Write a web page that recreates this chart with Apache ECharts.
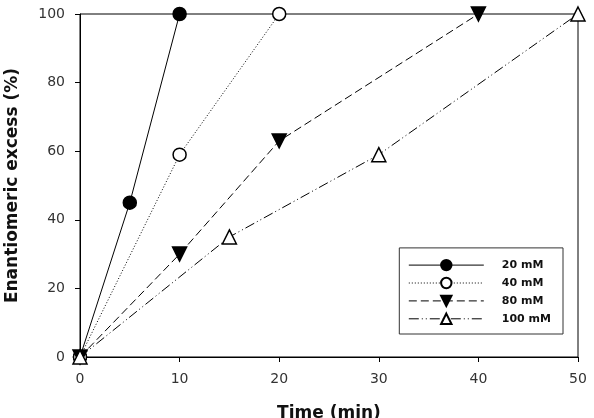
<!DOCTYPE html>
<html>
<head>
<meta charset="utf-8">
<script src="https://cdn.jsdelivr.net/npm/echarts@6/dist/echarts.min.js"></script>
<style>
  html, body { margin: 0; padding: 0; background: #fff; }
  #chart { width: 594px; height: 418px; }
</style>
</head>
<body>
<div id="chart"></div>
<script>
// data
var names = ['20 mM', '40 mM', '80 mM', '100 mM'];
var time20 = [0, 5, 10];
var ee20 = [0, 45, 100];
var time40 = [0, 10, 20];
var ee40 = [0, 59, 100];
var time80 = [0, 10, 20, 40];
var ee80 = [0, 30, 63, 100];
var time100 = [0, 15, 30, 50];
var ee100 = [0, 35, 59, 100];

function pairs(xs, ys) {
    var out = [];
    for (var i = 0; i < xs.length; i++) {
        out.push([xs[i], ys[i]]);
    }
    return out;
}

var font = 'DejaVu Sans, Liberation Sans, sans-serif';

function makeSeries(name, xs, ys, symbol, fill, dash, rotate) {
    return {
        name: name,
        type: 'line',
        data: pairs(xs, ys),
        symbol: symbol,
        symbolSize: symbol === 'circle' ? 13 : 14,
        symbolRotate: rotate || 0,
        showAllSymbol: true,
        itemStyle: { color: fill, borderColor: '#000', borderWidth: 1.5 },
        lineStyle: { color: '#000', width: 1, type: dash },
        z: 3
    };
}

var chart = echarts.init(document.getElementById('chart'));
chart.setOption({
    animation: false,
    textStyle: { fontFamily: font },
    grid: { left: 80, top: 14, right: 16, bottom: 61, containLabel: false, outerBoundsMode: 'none' },
    legend: {
        data: names,
        orient: 'vertical',
        right: 31,
        bottom: 84,
        itemWidth: 75,
        itemHeight: 13,
        itemGap: 5.5,
        padding: [11, 12, 9, 9],
        borderColor: '#333',
        borderWidth: 1,
        lineStyle: { width: 1 },
        textStyle: { fontFamily: font, fontSize: 11, fontWeight: 'bold', color: '#111', padding: [0, 0, 0, 13] }
    },
    xAxis: {
        type: 'value',
        min: 0, max: 50, interval: 10,
        name: 'Time (min)',
        nameLocation: 'middle',
        nameGap: 48,
        nameTextStyle: { fontFamily: font, fontSize: 17, fontWeight: 'bold', color: '#111' },
        axisLine: { show: true, onZero: false, lineStyle: { color: '#000', width: 1 } },
        axisTick: { show: true, inside: false, length: 5, lineStyle: { color: '#000' } },
        axisLabel: { fontFamily: font, fontSize: 14, color: '#333', margin: 15 },
        splitLine: { show: false }
    },
    yAxis: {
        type: 'value',
        min: 0, max: 100, interval: 20,
        name: 'Enantiomeric excess (%)',
        nameLocation: 'middle',
        nameGap: 59,
        nameTextStyle: { fontFamily: font, fontSize: 17, fontWeight: 'bold', color: '#111' },
        axisLine: { show: true, onZero: false, lineStyle: { color: '#000', width: 1 } },
        axisTick: { show: true, inside: false, length: 5, lineStyle: { color: '#000' } },
        axisLabel: { fontFamily: font, fontSize: 14, color: '#333', margin: 15 },
        splitLine: { show: false }
    },
    graphic: [{
        type: 'rect',
        shape: { x: 80, y: 14, width: 498, height: 343 },
        style: { fill: 'none', stroke: '#000', lineWidth: 1 },
        silent: true,
        z: 0
    }],
    series: [
        makeSeries(names[0], time20, ee20, 'circle', '#000', 'solid'),
        makeSeries(names[1], time40, ee40, 'circle', '#fff', [1, 2]),
        makeSeries(names[2], time80, ee80, 'triangle', '#000', [8, 4], 180),
        makeSeries(names[3], time100, ee100, 'triangle', '#fff', [10, 3, 1, 3, 1, 3])
    ]
});
</script>
</body>
</html>
